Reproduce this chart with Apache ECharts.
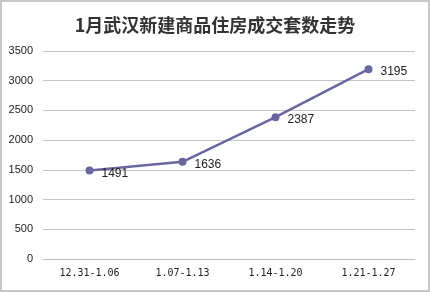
<!DOCTYPE html>
<html><head><meta charset="utf-8">
<script src="https://cdn.jsdelivr.net/npm/echarts@6/dist/echarts.min.js"></script>
<style>html,body{margin:0;padding:0;background:#fff;}
#frame{position:absolute;left:0;top:0;width:426px;height:288px;border:2px solid #c8c8c8;}
#c{position:absolute;left:0;top:0;width:430px;height:292px;}</style>
</head><body><div id="frame"></div><div id="c"></div>
<script>
const categories = ['12.31-1.06', '1.07-1.13', '1.14-1.20', '1.21-1.27'];
const values = [1491, 1636, 2387, 3195];
const yTicks = { min: 0, max: 3500, interval: 500 };
const chart = echarts.init(document.getElementById('c'), null, {renderer: 'canvas'});
chart.setOption({
  animation: false,
  title: { text: '1月武汉新建商品住房成交套数走势', left: 'center', top: 11,
    textStyle: { fontFamily: 'Noto Sans CJK SC', fontWeight: 'bold', fontSize: 18, color: '#333' } },
  grid: { left: 43, right: 15, top: 51, bottom: 33 },
  xAxis: { type: 'category', data: categories, boundaryGap: true,
    axisLine: { lineStyle: { color: '#bdbdbd' } }, axisTick: { show: false },
    axisLabel: { color: '#222', fontSize: 10, fontFamily: 'DejaVu Sans Mono', margin: 9 } },
  yAxis: { type: 'value', min: yTicks.min, max: yTicks.max, interval: yTicks.interval,
    axisLine: { show: false }, axisTick: { show: false },
    splitLine: { lineStyle: { color: '#c4c4c4' } },
    axisLabel: { color: '#222', fontSize: 11, fontFamily: 'Liberation Sans', margin: 10,
      formatter: function (v) { return String(v); } } },
  series: [{ type: 'line', data: values, symbol: 'circle', symbolSize: 8,
    lineStyle: { color: '#6a67a0', width: 2.5 }, itemStyle: { color: '#6a67a0' },
    label: { show: true, position: 'right', distance: 8, color: '#222', fontSize: 12, fontFamily: 'Liberation Sans', offset: [0, 3] } }]
});
</script></body></html>
